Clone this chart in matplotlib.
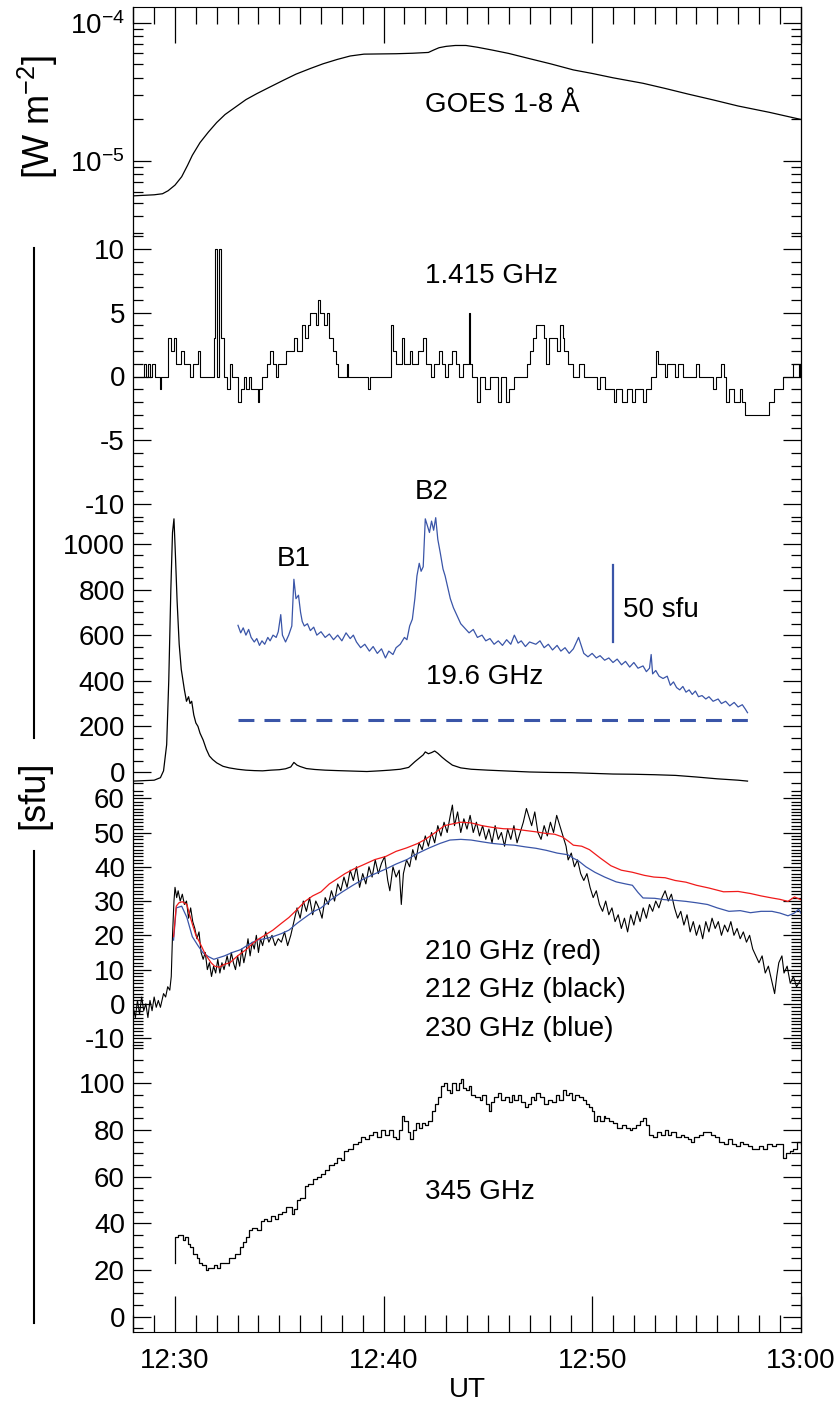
import matplotlib
matplotlib.use("Agg")
import matplotlib.pyplot as plt
from matplotlib.lines import Line2D
from matplotlib.ticker import MultipleLocator, FixedLocator, LogLocator, NullFormatter, FixedFormatter

plt.rcParams["font.family"] = ["Liberation Sans", "DejaVu Sans"]
plt.rcParams["mathtext.fontset"] = "custom"
plt.rcParams["mathtext.rm"] = "Liberation Sans"
plt.rcParams["mathtext.default"] = "regular"
plt.rcParams["axes.unicode_minus"] = False

# time axis: minutes after 12:00 UT
time_ticks = [30, 40, 50, 60]
time_labels = ["12:30", "12:40", "12:50", "13:00"]

# GOES 1-8 A flux [W m^-2]
t_goes = [28.0, 29.0, 29.4, 29.67, 30.0, 30.32, 30.6, 30.83, 31.2, 31.6, 32.0, 32.4, 32.89,
          33.4, 33.92, 34.5, 35.2, 35.8, 36.49, 37.1, 37.78, 38.4, 39.06, 39.8, 40.6, 41.4,
          42.15, 42.4, 42.66, 43.0, 43.44, 43.95, 44.5, 45.2, 46.0, 47.0, 48.0, 49.1, 50.0,
          51.0, 52.44, 53.5, 54.6, 55.79, 57.0, 58.5, 60.0]
f_goes = [5.6e-6, 5.7e-6, 5.8e-6, 6.1e-6, 6.7e-6, 7.7e-6, 9.3e-6, 1.1e-5, 1.36e-5, 1.62e-5,
          1.9e-5, 2.17e-5, 2.45e-5, 2.78e-5, 3.07e-5, 3.4e-5, 3.84e-5, 4.25e-5, 4.67e-5, 5.05e-5,
          5.43e-5, 5.75e-5, 5.93e-5, 5.95e-5, 5.97e-5, 6.02e-5, 6.1e-5, 6.35e-5, 6.6e-5, 6.75e-5,
          6.85e-5, 6.85e-5, 6.65e-5, 6.35e-5, 6.0e-5, 5.5e-5, 5.05e-5, 4.56e-5, 4.3e-5, 4.0e-5,
          3.65e-5, 3.35e-5, 3.05e-5, 2.77e-5, 2.5e-5, 2.25e-5, 2.0e-5]

# 1.415 GHz [sfu], step values
t_1415 = [28.0, 28.52, 28.6, 28.7, 28.8, 28.9, 29.03, 29.29, 29.35, 29.67, 29.8, 29.93, 30.06,
          30.3, 30.45, 30.7, 30.85, 31.1, 31.2, 31.86, 31.94, 32.0, 32.1, 32.2, 32.37, 32.5,
          32.63, 32.75, 33.0, 33.15, 33.3, 33.4, 33.55, 33.66, 33.97, 34.05, 34.17, 34.43,
          34.56, 34.69, 34.82, 34.95, 35.2, 35.33, 35.72, 35.85, 36.1, 36.23, 36.36, 36.49,
          36.75, 36.87, 36.95, 37.12, 37.3, 37.4, 37.58, 37.72, 37.83, 38.24, 38.3, 39.27,
          39.33, 40.35, 40.43, 40.6, 40.86, 40.99, 41.25, 41.38, 41.64, 41.89, 42.02, 42.28,
          42.41, 42.66, 42.8, 42.95, 43.1, 43.3, 43.45, 43.6, 43.8, 44.1, 44.16, 44.26, 44.47,
          44.6, 44.85, 45.1, 45.49, 45.62, 45.88, 46.01, 46.27, 46.9, 47.04, 47.17, 47.3,
          47.68, 47.81, 47.94, 48.32, 48.45, 48.58, 48.66, 48.84, 49.1, 49.35, 49.6, 49.73,
          50.25, 50.38, 50.64, 51.03, 51.15, 51.41, 51.67, 51.93, 52.05, 52.44, 52.57, 52.83,
          53.08, 53.16, 53.5, 53.6, 53.97, 54.1, 54.36, 55.0, 55.13, 55.79, 55.92, 56.2,
          56.33, 56.43, 56.56, 56.81, 57.07, 57.2, 57.33, 58.49, 58.74, 59.13, 59.64, 59.9,
          59.97, 60.0]
f_1415 = [0, 1, 0, 1, 0, 1, 0, -1, 0, 3, 2, 3, 1,
          2, 1, 0, 1, 2, 0, 3, 10, 0, 10, 3, 0, -1,
          1, 0, -2, -1, 0, -1, 0, -1, -2, -1, 0, 1,
          2, 1, 0, 1, 1, 2, 3, 2, 4, 3, 4, 5,
          4, 6, 5, 4, 5, 3, 2, 1, 0, 1, 0, -1,
          0, 4, 2, 1, 3, 1, 2, 1, 2, 3, 1, 0,
          1, 2, 1, 0, 1, 2, 1, 0, 1, 5, 1, 0, -2,
          0, -1, 0, -2, 0, -2, -1, 0, 1, 2, 3, 4,
          3, 1, 3, 2, 4, 3, 2, 1, 0, 1, 0, 0,
          -1, 0, -1, -2, -1, -2, -1, -2, -1, -2, -1, 0,
          2, 1, 0, 1, 0, 1, 0, 1, 0, -1, 0, 1,
          0, -2, -1, -2, -1, -2, -3, -2, -1, 0, 1, 0,
          1, 1]

# 19.6 GHz [sfu], black trace on the panel scale
t_196 = [28.0, 28.5, 29.0, 29.3, 29.45, 29.6, 29.7, 29.8, 29.88, 29.95, 30.02, 30.1, 30.2,
         30.3, 30.45, 30.55, 30.65, 30.72, 30.8, 30.9, 31.0, 31.1, 31.2, 31.35, 31.5, 31.65,
         31.8, 32.0, 32.3, 32.6, 33.0, 33.4, 33.8, 34.2, 34.6, 35.0, 35.3, 35.55, 35.7, 35.85,
         36.0, 36.3, 36.7, 37.2, 37.8, 38.5, 39.2, 39.8, 40.3, 40.8, 41.2, 41.5, 41.7, 41.9,
         42.0, 42.15, 42.3, 42.45, 42.6, 42.8, 43.0, 43.3, 43.7, 44.2, 45.0, 46.0, 47.0, 48.0,
         49.0, 50.0, 51.0, 52.0, 53.0, 54.0, 55.0, 56.0, 57.0, 57.45]
f_196 = [-40, -38, -36, -25, 5, 120, 400, 800, 1050, 1110, 950, 750, 560,
         450, 360, 310, 330, 300, 310, 250, 215, 200, 170, 140, 100, 70,
         55, 40, 25, 18, 12, 8, 6, 5, 8, 10, 14, 22, 42, 30,
         24, 15, 11, 8, 6, 4, 2, 5, 8, 12, 20, 45, 60, 75,
         88, 80, 85, 92, 82, 65, 50, 30, 18, 12, 8, 4, 0, -2,
         -3, -6, -9, -10, -12, -15, -22, -30, -36, -40]

# 19.6 GHz magnified (blue), read on the panel scale
t_196_zoom = [33.02, 33.15, 33.27, 33.4, 33.53, 33.65, 33.8, 33.92, 34.05, 34.17, 34.3, 34.45,
              34.56, 34.7, 34.85, 34.95, 35.07, 35.15, 35.3, 35.45, 35.6, 35.7, 35.8, 35.92,
              36.02, 36.1, 36.2, 36.35, 36.49, 36.65, 36.8, 37.0, 37.2, 37.4, 37.6, 37.8, 38.0,
              38.2, 38.4, 38.55, 38.7, 38.9, 39.1, 39.32, 39.5, 39.7, 39.9, 40.09, 40.25, 40.45,
              40.6, 40.8, 41.0, 41.12, 41.25, 41.38, 41.5, 41.6, 41.71, 41.8, 41.9, 42.0, 42.1,
              42.2, 42.3, 42.4, 42.5, 42.6, 42.72, 42.85, 42.95, 43.05, 43.2, 43.35, 43.5, 43.7,
              43.9, 44.1, 44.3, 44.5, 44.72, 44.9, 45.1, 45.3, 45.5, 45.7, 45.9, 46.1, 46.27,
              46.45, 46.6, 46.8, 47.0, 47.3, 47.5, 47.7, 47.9, 48.1, 48.32, 48.5, 48.7, 48.9,
              49.1, 49.35, 49.6, 49.8, 50.0, 50.2, 50.38, 50.6, 50.8, 51.0, 51.2, 51.41, 51.6,
              51.8, 52.0, 52.2, 52.44, 52.6, 52.75, 52.83, 52.9, 53.05, 53.21, 53.4, 53.6,
              53.75, 53.9, 54.05, 54.2, 54.35, 54.5, 54.65, 54.8, 54.95, 55.1, 55.27, 55.45,
              55.6, 55.8, 56.04, 56.2, 56.4, 56.6, 56.81, 57.0, 57.2, 57.35, 57.45]
f_196_zoom = [643, 610, 632, 600, 625, 590, 570, 585, 555, 575, 560, 590,
              575, 600, 590, 615, 690, 600, 570, 600, 640, 845, 760, 775,
              700, 660, 640, 650, 620, 635, 600, 615, 590, 605, 580, 600, 575,
              610, 585, 600, 570, 545, 560, 530, 550, 520, 540, 500, 530, 515,
              545, 560, 590, 580, 640, 670, 760, 860, 915, 880, 900, 1110, 1080,
              1050, 1100, 1060, 1115, 1020, 960, 890, 860, 820, 760, 720, 690, 650,
              630, 610, 625, 590, 600, 575, 585, 560, 575, 555, 580, 560, 600,
              565, 575, 550, 570, 560, 575, 545, 560, 535, 555, 530, 545, 520,
              540, 590, 520, 505, 520, 500, 510, 490, 500, 480, 495, 470, 485,
              460, 480, 455, 465, 440, 455, 515, 430, 445, 420, 410, 420,
              380, 395, 370, 360, 375, 350, 360, 340, 355, 330, 335, 320,
              330, 310, 320, 300, 310, 290, 305, 285, 295, 275, 260]
zoom_baseline = 226           # dashed reference level
scale_bar = [570, 909]        # 50 sfu bar on the magnified trace
scale_bar_time = 51.02

# 212 GHz (black)
t_212 = [28.0, 28.1, 28.2, 28.3, 28.4, 28.5, 28.6, 28.7, 28.8, 28.9, 29.0, 29.1, 29.2, 29.3,
         29.45, 29.55, 29.65, 29.75, 29.82, 29.88, 29.95, 30.0, 30.08, 30.15, 30.25, 30.35,
         30.45, 30.55, 30.65, 30.75, 30.85, 30.95, 31.05, 31.15, 31.25, 31.35, 31.45, 31.55,
         31.65, 31.75, 31.85, 31.95, 32.05, 32.15, 32.25, 32.35, 32.5, 32.6, 32.7, 32.8,
         32.9, 33.0, 33.1, 33.2, 33.3, 33.4, 33.5, 33.6, 33.7, 33.8, 33.9, 34.0, 34.1, 34.2,
         34.35, 34.5, 34.65, 34.8, 34.95, 35.1, 35.25, 35.4, 35.55, 35.7, 35.85, 36.0, 36.15,
         36.3, 36.45, 36.6, 36.75, 36.9, 37.05, 37.2, 37.35, 37.5, 37.65, 37.8, 37.95, 38.1,
         38.25, 38.4, 38.55, 38.7, 38.85, 39.0, 39.15, 39.3, 39.45, 39.6, 39.75, 39.9, 40.05,
         40.2, 40.3, 40.45, 40.6, 40.75, 40.85, 40.95, 41.1, 41.25, 41.4, 41.55, 41.7, 41.85,
         42.0, 42.15, 42.3, 42.45, 42.6, 42.75, 42.9, 43.05, 43.2, 43.3, 43.4, 43.55, 43.7,
         43.85, 44.0, 44.15, 44.3, 44.45, 44.6, 44.75, 44.9, 45.05, 45.2, 45.35, 45.5, 45.65,
         45.8, 45.95, 46.1, 46.25, 46.4, 46.55, 46.7, 46.85, 46.95, 47.1, 47.25, 47.4, 47.55,
         47.7, 47.85, 48.0, 48.15, 48.3, 48.45, 48.6, 48.75, 48.85, 49.0, 49.15, 49.3, 49.45,
         49.6, 49.75, 49.9, 50.05, 50.2, 50.35, 50.5, 50.65, 50.8, 50.95, 51.1, 51.25, 51.4,
         51.55, 51.7, 51.85, 52.0, 52.15, 52.3, 52.45, 52.6, 52.75, 52.9, 53.05, 53.2, 53.35,
         53.5, 53.65, 53.8, 53.95, 54.1, 54.25, 54.4, 54.55, 54.7, 54.85, 55.0, 55.15, 55.3,
         55.45, 55.6, 55.75, 55.9, 56.05, 56.2, 56.35, 56.5, 56.65, 56.8, 56.95, 57.1, 57.25,
         57.4, 57.55, 57.7, 57.85, 58.0, 58.15, 58.3, 58.45, 58.6, 58.75, 58.85, 58.95, 59.1,
         59.2, 59.35, 59.5, 59.65, 59.8, 60.0]
f_212 = [-1, -4, 1, -3, 2, -2, 0, -4, 1, -2, 2, -1, 1, -1,
         3, 2, 5, 4, 8, 20, 30, 34, 31, 33, 30, 32,
         29, 30, 25, 28, 24, 22, 19, 21, 15, 13, 15, 10,
         12, 8, 11, 9, 13, 9, 12, 10, 14, 11, 15, 12,
         10, 14, 11, 16, 12, 15, 19, 14, 18, 16, 20, 15, 19, 17,
         21, 18, 20, 17, 19, 18, 21, 17, 20, 24, 28, 25, 30,
         27, 31, 26, 30, 28, 25, 31, 29, 33, 30, 35, 33, 37,
         34, 39, 36, 40, 34, 38, 35, 40, 37, 42, 38, 41, 43,
         36, 33, 40, 37, 39, 29, 38, 42, 40, 45, 42, 47, 45,
         49, 46, 50, 47, 52, 49, 53, 50, 55, 58, 52, 56, 50,
         54, 51, 55, 50, 53, 49, 52, 48, 51, 47, 52, 48, 50,
         46, 51, 48, 52, 47, 50, 53, 57, 55, 52, 56, 50, 48,
         52, 49, 53, 50, 55, 52, 49, 46, 42, 44, 40, 42, 38,
         36, 38, 34, 31, 33, 29, 27, 30, 26, 28, 24, 26, 22,
         25, 21, 26, 23, 27, 24, 28, 25, 29, 27, 30, 28, 31,
         33, 30, 32, 28, 25, 27, 23, 26, 21, 24, 20, 23, 19,
         24, 21, 25, 22, 24, 20, 23, 21, 24, 20, 22, 19, 21,
         18, 20, 16, 14, 12, 14, 9, 11, 7, 3, 8, 12, 14,
         9, 11, 6, 8, 5, 7]

# 210 GHz (red)
t_210 = [29.93, 30.06, 30.19, 30.35, 30.57, 30.7, 30.83, 31.0, 31.2, 31.45, 31.73, 31.9,
         32.12, 32.35, 32.63, 33.0, 33.4, 33.7, 33.92, 34.3, 34.69, 35.1, 35.46, 35.85, 36.23,
         36.6, 37.0, 37.4, 37.78, 38.15, 38.55, 39.0, 39.58, 40.1, 40.6, 41.1, 41.64, 42.0,
         42.41, 42.7, 42.92, 43.3, 43.69, 44.2, 44.72, 45.2, 45.75, 46.3, 46.78, 47.3, 47.81,
         48.2, 48.58, 48.85, 49.1, 49.5, 49.87, 50.4, 50.9, 51.4, 51.93, 52.5, 52.96, 53.5,
         53.98, 54.5, 55.0, 55.6, 56.3, 57.0, 57.59, 58.1, 58.62, 59.0, 59.39, 59.7, 60.0]
f_210 = [19.6, 28.5, 29.5, 29.8, 29, 26, 23.3, 20, 17.7, 14.5, 12, 11, 10.7, 11.5, 12,
         14, 15.8, 17.5, 18.6, 20, 21.5, 23.5, 25.2, 27.5, 29.9, 31.5, 32.7, 35, 36.5,
         38, 39.3, 40.5, 42.1, 43, 44.5, 45.5, 46.8, 48, 49.7, 51, 52, 52.5, 53, 52.8, 52,
         51.5, 51.1, 51, 50.6, 50.2, 49.7, 49.5, 48.7, 47.5, 46.3, 46, 45, 42.5, 40.3, 39,
         38.4, 37.5, 37, 36.8, 36, 35.5, 34.6, 33.8, 32.7, 32.8, 32.2, 31.5, 30.9, 30.5,
         29.9, 31.2, 30.4]

# 230 GHz (blue)
t_230 = [29.93, 30.06, 30.32, 30.57, 30.83, 31.1, 31.34, 31.6, 31.86, 32.37, 32.75, 33.14,
         33.5, 33.92, 34.3, 34.69, 35.1, 35.46, 35.85, 36.23, 36.6, 37.0, 37.5, 38.03, 38.5,
         39.06, 39.6, 40.09, 40.6, 41.12, 41.6, 42.15, 42.7, 43.18, 43.7, 44.2, 44.7, 45.24,
         45.75, 46.27, 46.8, 47.3, 47.8, 48.32, 48.84, 49.1, 49.35, 49.7, 50.13, 50.6, 51.15,
         51.6, 51.93, 52.2, 52.44, 53.0, 53.47, 54.0, 54.5, 55.0, 55.53, 56.0, 56.56, 57.1,
         57.59, 58.1, 58.62, 59.0, 59.39, 59.7, 59.9, 60.0]
f_230 = [18.6, 28, 28.5, 25.2, 19.6, 17, 14.9, 13.8, 13, 14, 15, 15.8, 17.2, 18.6, 19,
         19.6, 20.5, 21.5, 23.5, 25.2, 26.8, 28, 30.5, 32.7, 34.5, 36.5, 38, 39.3, 40.8,
         42.1, 43.8, 45.4, 46.8, 47.8, 48, 47.8, 47.3, 46.8, 46.5, 46.3, 45.8, 45.4, 44.8,
         44, 43.5, 42.5, 41.7, 40, 38.4, 37, 35.6, 35, 34.6, 32.5, 30.9, 30.8, 30.4, 30.2,
         29.9, 29.5, 29, 28, 27, 27.2, 26.6, 27, 27, 26.5, 25.7, 26.5, 27.6, 26.5]

# 345 GHz
t_345 = [30.0, 30.02, 30.15, 30.3, 30.4, 30.5, 30.6, 30.7, 30.85, 30.96, 31.05, 31.14, 31.3,
         31.47, 31.6, 31.75, 31.86, 32.0, 32.15, 32.37, 32.6, 32.89, 33.1, 33.25, 33.4, 33.55,
         33.7, 33.92, 34.1, 34.25, 34.43, 34.6, 34.8, 34.95, 35.15, 35.3, 35.46, 35.6, 35.72,
         35.85, 36.0, 36.23, 36.4, 36.6, 36.8, 37.0, 37.2, 37.4, 37.6, 37.78, 37.95, 38.1,
         38.3, 38.55, 38.75, 38.9, 39.1, 39.32, 39.5, 39.7, 39.9, 40.09, 40.25, 40.45, 40.6,
         40.75, 40.9, 41.0, 41.15, 41.25, 41.4, 41.55, 41.7, 41.85, 42.0, 42.15, 42.3, 42.45,
         42.6, 42.75, 42.9, 43.05, 43.18, 43.3, 43.45, 43.6, 43.69, 43.8, 43.95, 44.1, 44.2,
         44.4, 44.6, 44.72, 44.9, 45.05, 45.15, 45.3, 45.49, 45.65, 45.8, 46.0, 46.15, 46.27,
         46.45, 46.6, 46.8, 46.91, 47.05, 47.2, 47.3, 47.5, 47.7, 47.9, 48.07, 48.25, 48.4,
         48.58, 48.75, 48.9, 49.05, 49.2, 49.35, 49.55, 49.7, 49.87, 50.0, 50.1, 50.25, 50.4,
         50.55, 50.64, 50.8, 51.0, 51.2, 51.41, 51.6, 51.8, 51.93, 52.1, 52.3, 52.44, 52.6,
         52.75, 52.9, 53.1, 53.3, 53.47, 53.65, 53.8, 54.0, 54.24, 54.4, 54.6, 54.76, 54.9,
         55.1, 55.3, 55.53, 55.7, 55.9, 56.1, 56.3, 56.5, 56.7, 56.9, 57.07, 57.25, 57.45,
         57.65, 57.84, 58.0, 58.2, 58.4, 58.62, 58.8, 59.0, 59.13, 59.3, 59.5, 59.64, 59.8,
         60.0]
f_345 = [23, 34, 35, 35, 33, 34, 31, 30, 27, 27, 25, 23, 22,
         20, 21, 21, 22, 21, 23, 23, 25, 27, 30, 32, 34, 37,
         38, 37, 41, 42, 41, 43, 42, 44, 45, 47, 47, 44, 46,
         50, 51, 56, 57, 59, 60, 61, 63, 65, 66, 68, 67, 71,
         72, 74, 75, 77, 76, 78, 79, 77, 80, 78, 80, 77, 76,
         80, 86, 84, 79, 76, 80, 83, 81, 83, 82, 84, 88, 91,
         94, 99, 100, 97, 96, 100, 97, 100, 102, 98, 97, 99, 95,
         94, 93, 95, 91, 88, 92, 94, 96, 93, 94, 92, 95, 93,
         95, 92, 90, 91, 94, 93, 96, 94, 91, 93, 92, 95, 93,
         97, 95, 96, 93, 95, 94, 93, 91, 90, 88, 84, 86, 84,
         86, 85, 84, 83, 81, 82, 81, 80, 81, 82, 84, 85, 82,
         78, 77, 79, 78, 80, 78, 79, 77, 78, 77, 76, 75, 77,
         78, 79, 79, 78, 77, 75, 74, 76, 74, 73, 75, 74, 73,
         72, 72, 73, 72, 74, 73, 74, 74, 68, 70, 71, 72, 75,
         74]

BLUE = "#3a55a8"
RED = "#f01a1a"
W, H = 840.0, 1405.0
X0, X1 = 133.3, 800.7


def panel(top_px, bottom_px):
    return fig.add_axes([X0 / W, 1 - bottom_px / H, (X1 - X0) / W, (bottom_px - top_px) / H],
                        facecolor="none")


def style(ax, major, minor):
    ax.set_xlim(28, 60)
    ax.yaxis.set_major_locator(major)
    ax.yaxis.set_minor_locator(minor)
    ax.tick_params(axis="y", which="both", direction="in", left=True, right=True,
                   labelleft=True, labelright=False, width=0.9)
    ax.tick_params(axis="y", which="major", length=13, labelsize=20, pad=6)
    ax.tick_params(axis="y", which="minor", length=7)
    ax.tick_params(axis="x", which="both", bottom=False, top=False,
                   labelbottom=False, labeltop=False)
    ax.spines["top"].set_visible(False)
    ax.spines["bottom"].set_visible(False)
    for s in ("left", "right"):
        ax.spines[s].set_linewidth(0.9)


fig = plt.figure(figsize=(8.4, 14.05), dpi=100)

# GOES
ax1 = panel(7, 236)
ax1.plot(t_goes, f_goes, color="black", lw=0.9)
ax1.set_yscale("log")
ax1.set_ylim(2.87e-6, 1.3e-4)
style(ax1, LogLocator(base=10), LogLocator(base=10, subs=range(2, 10)))
ax1.yaxis.set_minor_formatter(NullFormatter())
ax1.spines["top"].set_visible(True)
ax1.xaxis.set_major_locator(FixedLocator(time_ticks))
ax1.xaxis.set_minor_locator(MultipleLocator(1))
ax1.tick_params(axis="x", which="both", top=True, direction="in", width=0.9)
ax1.tick_params(axis="x", which="major", length=26)
ax1.tick_params(axis="x", which="minor", length=12)
ax1.text(42.0, 2.53e-5, "GOES 1-8 Å", fontsize=20, va="center", ha="left")

# 1.415 GHz
ax2 = panel(236, 517)
ax2.step(t_1415, f_1415, where="post", color="black", lw=0.8)
ax2.set_ylim(-11, 11)
style(ax2, MultipleLocator(5), MultipleLocator(1))
ax2.text(42.0, 7.85, "1.415 GHz", fontsize=20, va="center", ha="left")

# 19.6 GHz
ax3 = panel(517, 790)
ax3.plot(t_196, f_196, color="black", lw=0.9)
ax3.plot(t_196_zoom, f_196_zoom, color=BLUE, lw=0.9)
ax3.plot([t_196_zoom[0], t_196_zoom[-1]], [zoom_baseline, zoom_baseline], color=BLUE,
         lw=2.2, dashes=(5.2, 3.3))
ax3.plot([scale_bar_time, scale_bar_time], scale_bar, color=BLUE, lw=1.6)
ax3.set_ylim(-79, 1118)
style(ax3, MultipleLocator(200), MultipleLocator(50))
ax3.text(35.71, 936, "B1", fontsize=20, ha="center", va="center")
ax3.text(42.29, 1228, "B2", fontsize=20, ha="center", va="center")
ax3.text(51.48, 710, "50 sfu", fontsize=20, ha="left", va="center")
ax3.text(42.03, 417, "19.6 GHz", fontsize=20, ha="left", va="center")

# 210 / 212 / 230 GHz
ax4 = panel(790, 1045)
ax4.plot(t_212, f_212, color="black", lw=0.8)
ax4.plot(t_230, f_230, color=BLUE, lw=0.9)
ax4.plot(t_210, f_210, color=RED, lw=0.9)
ax4.set_ylim(-12, 62.4)
style(ax4, MultipleLocator(10), MultipleLocator(1))
ax4.text(42.0, 15.1, "210 GHz (red)", fontsize=20, ha="left", va="center")
ax4.text(42.0, 4.1, "212 GHz (black)", fontsize=20, ha="left", va="center")
ax4.text(42.0, -7.2, "230 GHz (blue)", fontsize=20, ha="left", va="center")

# 345 GHz
ax5 = panel(1045, 1331.7)
ax5.step(t_345, f_345, where="post", color="black", lw=0.9)
ax5.set_ylim(-6.4, 116.5)
style(ax5, MultipleLocator(20), MultipleLocator(5))
ax5.spines["bottom"].set_visible(True)
ax5.xaxis.set_major_locator(FixedLocator(time_ticks))
ax5.xaxis.set_major_formatter(FixedFormatter(time_labels))
ax5.xaxis.set_minor_locator(MultipleLocator(1))
ax5.tick_params(axis="x", which="both", bottom=True, labelbottom=True, direction="in",
                width=0.9, labelsize=20, pad=12)
ax5.tick_params(axis="x", which="major", length=26)
ax5.tick_params(axis="x", which="minor", length=12)
ax5.set_xlabel("UT", fontsize=20, labelpad=2)
ax5.text(42.0, 53.6, "345 GHz", fontsize=20, ha="left", va="center")

# y-axis titles
fig.text(38 / W, 1 - 117 / H, "[W m$^{-2}$]", rotation=90, fontsize=26,
         ha="center", va="center")
fig.text(34 / W, 1 - 795 / H, "[sfu]", rotation=90, fontsize=26, ha="center", va="center")
fig.add_artist(Line2D([34 / W, 34 / W], [1 - 248 / H, 1 - 738 / H], color="black", lw=1.5))
fig.add_artist(Line2D([34 / W, 34 / W], [1 - 851 / H, 1 - 1323 / H], color="black", lw=1.5))

fig.savefig("out.png", dpi=100)
